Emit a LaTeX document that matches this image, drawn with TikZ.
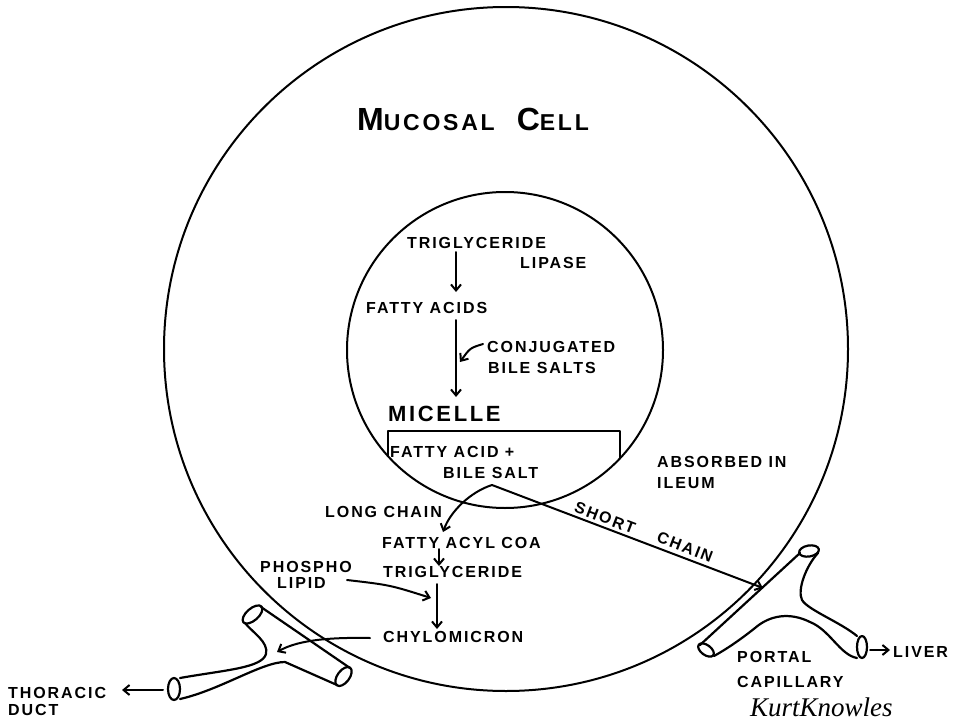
\documentclass[tikz,border=0pt]{standalone}
\usepackage{fontspec}
\setmainfont{Liberation Sans}
\newfontfamily\hand[LetterSpace=12]{Liberation Sans}
\newfontfamily\sig{Liberation Serif}
\usetikzlibrary{arrows.meta}
\begin{document}
\begin{tikzpicture}[x=1pt,y=-1pt,line cap=round,line join=round,
  lbl/.style={inner sep=0pt,anchor=base west,font=\hand\bfseries\fontsize{16}{18}\selectfont},
  big/.style={inner sep=0pt,anchor=base west,font=\hand\bfseries\fontsize{22}{24}\selectfont},
  ring/.style={circle,draw,line width=2pt,inner sep=0pt},
  ln/.style={line width=2pt},
  arr/.style={line width=2pt,-{Straight Barb[length=6pt,width=10pt,line width=2pt]}},
  tube/.style={line width=2.2pt}]
\useasboundingbox (0,0) rectangle (975,720);
% cell and micelle circles
\node[ring,minimum size=684pt] (cell) at (506,349) {};
\node[ring,minimum size=316pt] (mic) at (505,350) {};
% micelle box
\draw[ln] (388,456) -- (388,431) -- (620,431) -- (620,458);
% title
\node[inner sep=0pt,anchor=base west,font=\hand\bfseries] (title) at (357,130)
  {\fontsize{32}{34}\selectfont M\fontsize{23}{26}\selectfont UCOSAL\hspace{22pt}\fontsize{32}{34}\selectfont C\fontsize{23}{26}\selectfont ELL};
% labels
\node[lbl] (tg) at (407,248) {TRIGLYCERIDE};
\node[lbl] (lip) at (520,268) {LIPASE};
\node[lbl] (fa) at (366,313) {FATTY ACIDS};
\node[lbl] (conj) at (487,352) {CONJUGATED};
\node[lbl] (bs) at (488,373) {BILE SALTS};
\node[big] (mc) at (388,421) {MICELLE};
\node[lbl] (fab) at (390,457) {FATTY ACID +};
\node[lbl] (bsa) at (443,478) {BILE SALT};
\node[lbl] (abs) at (657,467) {ABSORBED IN};
\node[lbl] (il) at (657,488) {ILEUM};
\node[lbl] (lc) at (325,517) {LONG CHAIN};
\node[lbl] (fac) at (382,548) {FATTY ACYL COA};
\node[lbl] (tg2) at (383,577) {TRIGLYCERIDE};
\node[lbl] (chy) at (383,642) {CHYLOMICRON};
\node[lbl] (ph) at (260,572) {PHOSPHO};
\node[lbl] (pl) at (277,588) {LIPID};
\node[lbl,anchor=base,rotate=-21] (sc1) at (603,523) {SHORT};
\node[lbl,anchor=base,rotate=-21] (sc2) at (683,552) {CHAIN};
\node[lbl] (por) at (737,662) {PORTAL};
\node[lbl] (cap) at (737,687) {CAPILLARY};
\node[lbl] (liv) at (893,657) {LIVER};
\node[lbl] (tho) at (8,698) {THORACIC};
\node[lbl] (duct) at (8,715) {DUCT};
\node[inner sep=0pt,anchor=base west,font=\sig\itshape\fontsize{27}{29}\selectfont] (sig) at (750,716) {KurtKnowles};
% arrow end points
\coordinate (a1s) at (456,252); \coordinate (a1e) at (456,292);
\coordinate (a2s) at (456,320); \coordinate (a2e) at (456,397);
\coordinate (cjs) at (483,344); \coordinate (cje) at (460,362);
\coordinate (peak) at (492,485);
\coordinate (lce) at (443,532);
\coordinate (sce) at (763,588);
\coordinate (a3s) at (439,549); \coordinate (a3e) at (439,566);
\coordinate (a4s) at (437,584); \coordinate (a4e) at (437,629);
\coordinate (phs) at (347,580); \coordinate (phe) at (431,598);
\coordinate (chs) at (370,638); \coordinate (che) at (277,652);
\coordinate (ths) at (163,690); \coordinate (the) at (122,690);
\coordinate (lvs) at (870,650); \coordinate (lve) at (890,650);
% arrows
\draw[arr] (a1s) -- (a1e);
\draw[arr] (a2s) -- (a2e);
\draw[arr] (cjs) .. controls (470,348) .. (cje);
\draw[arr] (peak) .. controls (470,492) and (450,512) .. (lce);
\draw[arr] (peak) -- (sce);
\draw[arr] (a3s) -- (a3e);
\draw[arr] (a4s) -- (a4e);
\draw[arr] (phs) .. controls (390,585) .. (phe);
\draw[arr] (chs) .. controls (320,637) and (295,642) .. (che);
\draw[arr] (ths) -- (the);
\draw[arr] (lvs) -- (lve);
% thoracic duct vessel
\draw[tube] (180,678) .. controls (225,670) and (262,668) .. (266,654) .. controls (269,642) and (252,632) .. (245,623);
\draw[tube] (261,607) -- (350,668);
\draw[tube] (337,685) -- (285,662) .. controls (262,662) and (220,690) .. (180,699);
\draw[tube] (252.5,614.5) ellipse[x radius=12,y radius=6,rotate=41];
\draw[tube] (343.5,676.5) ellipse[x radius=11,y radius=6,rotate=53];
\draw[tube] (174,689) ellipse[x radius=6,y radius=11];
% portal capillary vessel
\draw[tube] (700,645) -- (800,553);
\draw[tube] (818,553) .. controls (806,566) and (797,590) .. (802,600) .. controls (808,610) and (840,622) .. (857,636);
\draw[tube] (857,658) .. controls (840,655) and (830,630) .. (810,622) .. controls (790,612) and (770,615) .. (755,628) .. controls (740,640) and (725,650) .. (714,656);
\draw[tube] (809,551) ellipse[x radius=10,y radius=5.5,rotate=10];
\draw[tube] (706,650) ellipse[x radius=9,y radius=5,rotate=-36];
\draw[tube] (862,647) ellipse[x radius=5,y radius=11];
\end{tikzpicture}
\end{document}
